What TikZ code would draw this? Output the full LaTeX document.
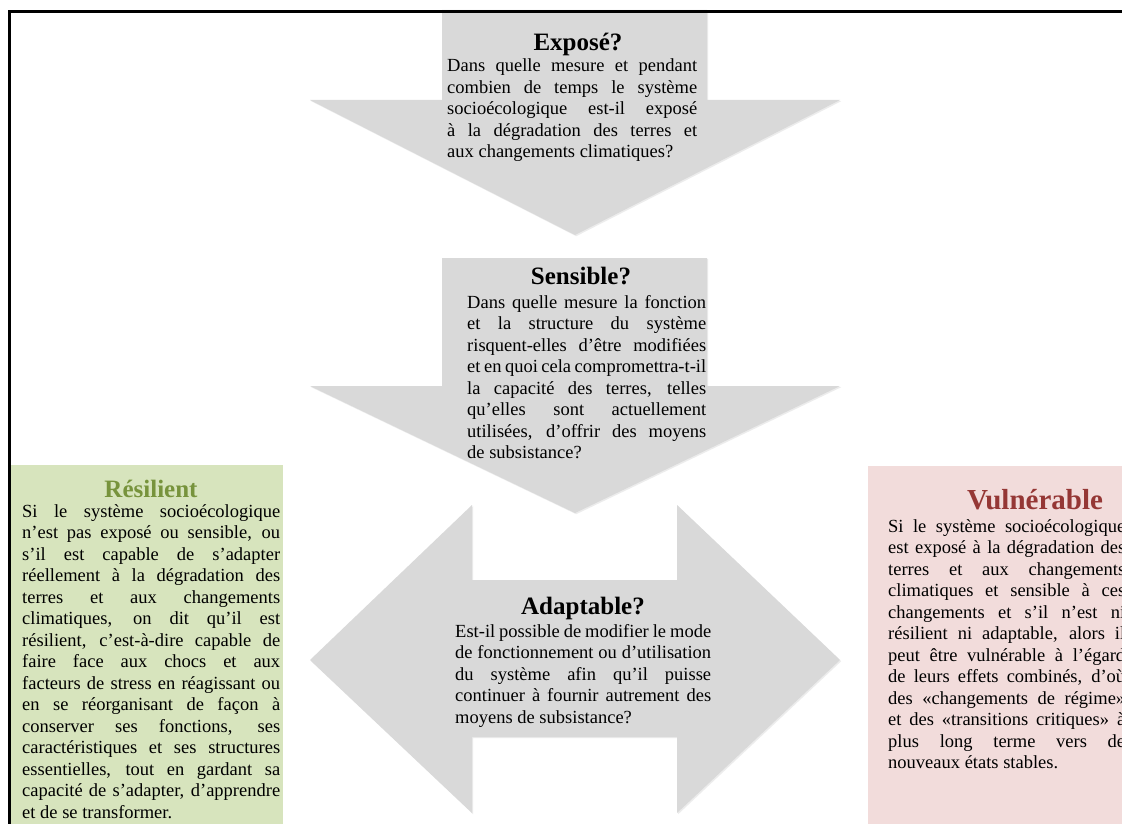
\documentclass[tikz,border=0pt]{standalone}
\usepackage{fontspec}
\setmainfont{Liberation Serif}
\usetikzlibrary{shadows}
\definecolor{arrowgrey}{HTML}{D9D9D9}
\definecolor{resgreen}{HTML}{D7E4BD}
\definecolor{resgreendark}{HTML}{77933C}
\definecolor{vulpink}{HTML}{F2DCDB}
\definecolor{vulreddark}{HTML}{953735}
\tolerance=10000
\hbadness=10000
\hyphenpenalty=10000

\begin{document}
\begin{tikzpicture}[x=1pt, y=-1pt,
  bigarrow/.style={fill=arrowgrey, drop shadow={shadow xshift=1.2pt, shadow yshift=-1.2pt, opacity=0.15}},
  headline/.style={inner sep=0pt, anchor=base, font=\fontsize{25}{30}\selectfont\bfseries},
  bodytext/.style={inner sep=0pt, anchor=base west, text width=#1, align=justify, font=\fontsize{18.5}{21.5}\selectfont}]
  \useasboundingbox (0,0) rectangle (1122,824);
  \clip (0,0) rectangle (1122,824);
  \fill[white] (0,0) rectangle (1122,824);
  \fill[resgreen] (10,465) rectangle (283,830);
  \fill[vulpink] (868,466) rectangle (1130,830);
  \fill[bigarrow] (442,10) -- (707,10) -- (707,100) -- (840,100) -- (575,235) -- (310,100) -- (442,100) -- cycle;
  \fill[bigarrow] (442,258) -- (707,258) -- (707,386) -- (840,386) -- (575,513) -- (310,386) -- (442,386) -- cycle;
  \fill[bigarrow] (310,660) -- (472,505) -- (472,580) -- (677,580) -- (677,505) -- (840,660) -- (677,813) -- (677,737) -- (472,737) -- (472,813) -- cycle;
  \draw[line width=3pt] (9,830) -- (9,12) -- (1130,12);
  \node[headline] (ExT) at (578,51) {Exposé?};
  \node[bodytext=250pt] (ExB) at (447,72) {Dans quelle mesure et pendant\linebreak combien de temps le système\linebreak socioécologique est-il exposé\linebreak à la dégradation des terres et\linebreak aux changements climatiques?};
  \node[headline] (SeT) at (581,284) {Sensible?};
  \node[bodytext=239pt] (SeB) at (467,308) {Dans quelle mesure la fonction\linebreak et la structure du système\linebreak risquent-elles d’être modifiées\linebreak et en quoi cela compromettra-t-il\linebreak la capacité des terres, telles\linebreak qu’elles sont actuellement\linebreak utilisées, d’offrir des moyens\linebreak de subsistance?};
  \node[headline] (AdT) at (583,614) {Adaptable?};
  \node[bodytext=256pt] (AdB) at (455,637) {Est-il possible de modifier le mode\linebreak de fonctionnement ou d’utilisation\linebreak du système afin qu’il puisse\linebreak continuer à fournir autrement des\linebreak moyens de subsistance?};
  \node[headline, text=resgreendark] (ReT) at (151,497) {Résilient};
  \node[bodytext=258pt] (ReB) at (22,517) {Si le système socioécologique\linebreak n’est pas exposé ou sensible, ou\linebreak s’il est capable de s’adapter\linebreak réellement à la dégradation des\linebreak terres et aux changements\linebreak climatiques, on dit qu’il est\linebreak résilient, c’est-à-dire capable de\linebreak faire face aux chocs et aux\linebreak facteurs de stress en réagissant ou\linebreak en se réorganisant de façon à\linebreak conserver ses fonctions, ses\linebreak caractéristiques et ses structures\linebreak essentielles, tout en gardant sa\linebreak capacité de s’adapter, d’apprendre\linebreak et de se transformer.};
  \node[headline, text=vulreddark, font=\fontsize{29}{34}\selectfont\bfseries] (VuT) at (1035,509) {Vulnérable};
  \node[bodytext=237pt] (VuB) at (888,532) {Si le système socioécologique\linebreak est exposé à la dégradation des\linebreak terres et aux changements\linebreak climatiques et sensible à ces\linebreak changements et s’il n’est ni\linebreak résilient ni adaptable, alors il\linebreak peut être vulnérable à l’égard\linebreak de leurs effets combinés, d’où\linebreak des «changements de régime»\linebreak et des «transitions critiques» à\linebreak plus long terme vers de\linebreak nouveaux états stables.};
\end{tikzpicture}
\end{document}
